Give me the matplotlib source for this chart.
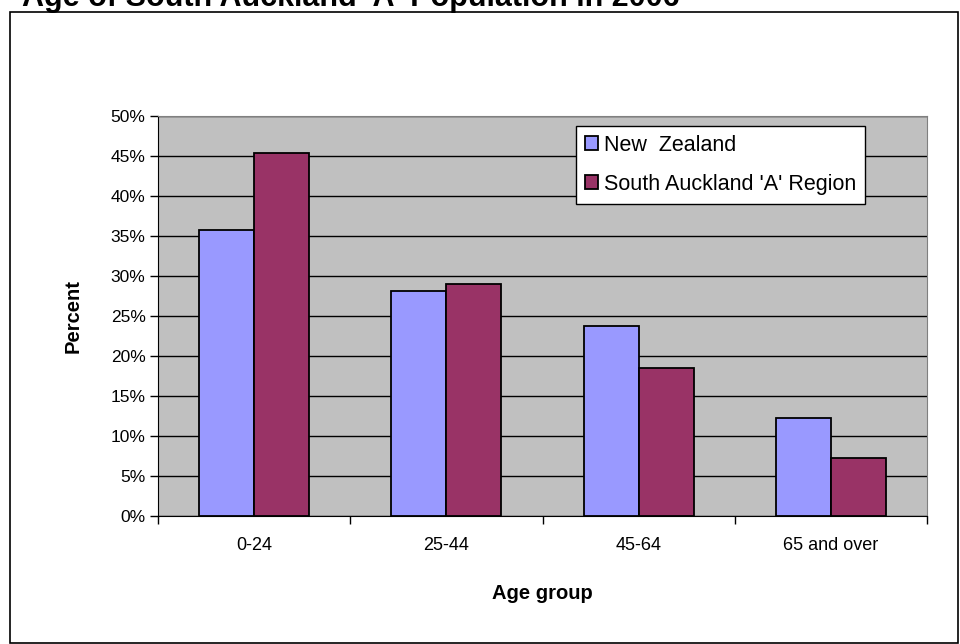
import numpy as np
import matplotlib.pyplot as plt
from matplotlib.patches import Rectangle
from matplotlib.ticker import FuncFormatter

age_groups = ['0-24', '25-44', '45-64', '65 and over']
nz_pct = [35.7, 28.1, 23.8, 12.3]
sa_pct = [45.4, 29.0, 18.5, 7.3]
series_names = ['New  Zealand', "South Auckland 'A' Region"]

plt.rcParams['font.family'] = ['Liberation Sans', 'DejaVu Sans']

fig = plt.figure(figsize=(9.6, 6.44), dpi=100)
W, H = 960, 644

# outer chart border
fig.patches.append(Rectangle((10 / W, 1 - 643 / H), 948 / W, 631 / H,
                             transform=fig.transFigure, fill=False,
                             edgecolor='black', linewidth=1.2))

# title sits partly above the top edge, as in the original
fig.text(22 / W, 1 - 6 / H, "Age of South Auckland 'A' Population in 2006",
         fontsize=22, fontweight='bold', ha='left', va='baseline')

ax = fig.add_axes([158 / W, 1 - 516 / H, 769 / W, 400 / H])
ax.set_facecolor('#C0C0C0')

x = np.arange(len(age_groups))
bw = 0.286
ax.bar(x - bw / 2, nz_pct, bw, color='#9999FF', edgecolor='black',
       linewidth=1.3, label=series_names[0], zorder=3)
ax.bar(x + bw / 2, sa_pct, bw, color='#993366', edgecolor='black',
       linewidth=1.3, label=series_names[1], zorder=3)

ax.set_xlim(-0.5, len(age_groups) - 0.5)
ax.set_ylim(0, 50)
ax.set_yticks(np.arange(0, 51, 5))
ax.yaxis.set_major_formatter(FuncFormatter(lambda v, p: f'{v:.0f}%'))
ax.yaxis.grid(True, color='black', linewidth=1)
ax.set_axisbelow(True)

ax.set_xticks(x)
ax.set_xticklabels(age_groups)
ax.set_xticks(np.arange(-0.5, len(age_groups)), minor=True)
ax.tick_params(axis='x', which='major', length=0, pad=15, labelsize=13)
ax.tick_params(axis='x', which='minor', length=6, width=1, direction='out')
ax.tick_params(axis='y', length=6, width=1, direction='out', labelsize=12.5, pad=3)

for s in ['top', 'right']:
    ax.spines[s].set_color('#808080')
ax.spines['left'].set_color('black')
ax.spines['bottom'].set_color('black')

ax.set_ylabel('Percent', fontsize=14.5, fontweight='bold', labelpad=20)
ax.set_xlabel('Age group', fontsize=14.5, fontweight='bold', labelpad=22)

leg = ax.legend(loc='upper left', bbox_to_anchor=((576 - 158) / 769, 1 - 10 / 400),
                frameon=True, fancybox=False, edgecolor='black', fontsize=15.5,
                framealpha=1, handlelength=0.6, handleheight=0.6, handletextpad=0.3,
                borderpad=0.4, labelspacing=0.85, borderaxespad=0)
leg.get_frame().set_linewidth(1)
leg.get_frame().set_facecolor('white')

fig.savefig('out.png', dpi=100)
